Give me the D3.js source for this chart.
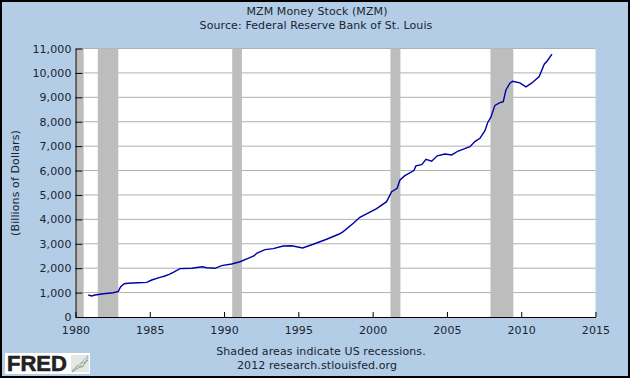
<!DOCTYPE html>
<html>
<head>
<meta charset="utf-8">
<script src="https://cdn.jsdelivr.net/npm/d3@7"></script>
<style>
  html, body { margin: 0; padding: 0; background: #b3cde6; }
  text { font-family: "DejaVu Sans", sans-serif; font-size: 11px; letter-spacing: 0.1px; fill: #1a2430; }
</style>
</head>
<body>
<div id="chart"></div>
<script>
const years = [1980.86, 1981.09, 1981.31, 1981.87, 1982.54, 1982.88, 1983.04, 1983.28, 1983.55, 1984.23,
  1984.79, 1985.13, 1985.69, 1986.02, 1986.31, 1986.58, 1987.03, 1987.82, 1988.53, 1988.83,
  1989.39, 1989.84, 1990.51, 1991.07, 1991.74, 1992.03, 1992.19, 1992.75, 1993.31, 1993.98,
  1994.55, 1995.29, 1996.0, 1996.9, 1997.75, 1998.02, 1998.7, 1999.14, 2000.27, 2000.94,
  2001.28, 2001.65, 2001.84, 2002.17, 2002.78, 2002.91, 2003.3, 2003.59, 2003.97, 2004.35,
  2004.86, 2005.32, 2005.76, 2006.55, 2006.88, 2007.22, 2007.56, 2007.74, 2007.96, 2008.23,
  2008.57, 2008.79, 2008.97, 2009.24, 2009.42, 2009.91, 2010.32, 2010.7, 2011.21, 2011.55,
  2011.75, 2012.07];
const mzm = [900, 860, 900, 955, 995, 1050, 1240, 1365, 1380, 1405,
  1420, 1515, 1625, 1680, 1750, 1830, 1980, 1995, 2060, 2020,
  1995, 2105, 2170, 2265, 2430, 2510, 2610, 2760, 2800, 2910,
  2920, 2830, 2980, 3185, 3400, 3500, 3840, 4085, 4440, 4725,
  5135, 5275, 5615, 5790, 6000, 6190, 6240, 6460, 6385, 6605,
  6680, 6640, 6800, 6980, 7185, 7320, 7635, 7960, 8185, 8670,
  8780, 8825, 9300, 9580, 9660, 9590, 9425, 9580, 9850, 10355,
  10490, 10770];
const recessionStart = [1980.02, 1981.5, 1990.55, 2001.2, 2007.93];
const recessionEnd = [1980.55, 1982.88, 1991.2, 2001.87, 2009.47];
const xTicks = [1980, 1985, 1990, 1995, 2000, 2005, 2010, 2015];
const yTicks = [0, 1000, 2000, 3000, 4000, 5000, 6000, 7000, 8000, 9000, 10000, 11000];
// little chart in the logo, in logo units
const logoA = [0, 2, 3, 5, 6, 8, 10];
const logoB = [1, 2, 4, 3, 6, 5, 9];
const logoC = [0, 1, 2, 3, 3, 6, 7];

const width = 630, height = 378;
const margin = { top: 48.5, right: 34.5, bottom: 61, left: 75.5 };

const svg = d3.select("#chart").append("svg")
  .attr("width", width)
  .attr("height", height)
  .style("display", "block");

svg.append("rect").attr("width", width).attr("height", height).attr("fill", "#b3cde6");

const x = d3.scaleLinear().domain([1980, 2015]).range([margin.left, width - margin.right]);
const y = d3.scaleLinear().domain([0, 11000]).range([height - margin.bottom, margin.top]);

// plot area
svg.append("rect")
  .attr("x", margin.left).attr("y", margin.top)
  .attr("width", width - margin.left - margin.right)
  .attr("height", height - margin.top - margin.bottom)
  .attr("fill", "#fff");

// gridlines
svg.append("g").selectAll("line")
  .data(yTicks.filter((d) => d > 0))
  .join("line")
  .attr("x1", margin.left).attr("x2", width - margin.right)
  .attr("y1", (d) => y(d)).attr("y2", (d) => y(d))
  .attr("stroke", "#b0b0b0").attr("stroke-width", 1);

// recessions
svg.append("g").selectAll("rect")
  .data(recessionStart)
  .join("rect")
  .attr("x", (d) => x(d))
  .attr("y", margin.top)
  .attr("width", (d, i) => x(recessionEnd[i]) - x(d))
  .attr("height", height - margin.top - margin.bottom)
  .attr("fill", "#bdbdbd");

// series
const line = d3.line().x((d) => x(d)).y((d, i) => y(mzm[i]));
svg.append("path")
  .attr("d", line(years))
  .attr("fill", "none")
  .attr("stroke", "#0000a8")
  .attr("stroke-width", 1.4);

// axes
const yAxis = svg.append("g")
  .attr("transform", `translate(${margin.left},0)`)
  .call(d3.axisLeft(y).tickValues(yTicks).tickFormat(d3.format(",")).tickSize(-7).tickPadding(4).tickSizeOuter(0));
const xAxis = svg.append("g")
  .attr("transform", `translate(0,${height - margin.bottom})`)
  .call(d3.axisBottom(x).tickValues(xTicks).tickFormat(d3.format("d")).tickSize(-5).tickPadding(9).tickSizeOuter(0));
[yAxis, xAxis].forEach((a) => {
  a.selectAll("path, line").attr("stroke", "#000");
  a.selectAll("text").style("font-family", '"DejaVu Sans", sans-serif').style("font-size", "11px").attr("fill", "#1a2430");
});

// titles
const label = (txt, px, py) => svg.append("text").attr("x", px).attr("y", py).attr("text-anchor", "middle").text(txt);
label("MZM Money Stock (MZM)", 317, 15);
label("Source: Federal Reserve Bank of St. Louis", 316, 29);
label("Shaded areas indicate US recessions.", 321, 355);
label("2012 research.stlouisfed.org", 317, 369);
svg.append("text")
  .attr("transform", "translate(19,183) rotate(-90)")
  .attr("text-anchor", "middle")
  .text("(Billions of Dollars)");

// FRED logo
const logo = svg.append("g").attr("transform", "translate(5,353)");
logo.append("rect").attr("width", 85).attr("height", 21).attr("fill", "#fff");
logo.append("text")
  .attr("x", 2).attr("y", 18)
  .style("font-family", '"Liberation Sans", sans-serif')
  .style("font-size", "22px")
  .style("font-weight", "bold")
  .style("letter-spacing", "0")
  .style("fill", "#222")
  .style("stroke", "#222")
  .style("stroke-width", "0.6px")
  .text("FRED");
const lx = d3.scaleLinear().domain([0, 6]).range([67, 83]);
const ly = d3.scaleLinear().domain([0, 10]).range([19, 2]);
logo.append("rect").attr("x", 66).attr("y", 2).attr("width", 18).attr("height", 17).attr("fill", "#e4e8e4");
[[logoA, "#9fb4cc"], [logoB, "#a8b88a"], [logoC, "#8a9a7a"]].forEach(([vals, c]) => {
  logo.append("path")
    .attr("d", d3.line().x((d, i) => lx(i)).y((d) => ly(d))(vals))
    .attr("fill", "none").attr("stroke", c).attr("stroke-width", 1);
});

// black frame
svg.append("rect")
  .attr("x", 1).attr("y", 1)
  .attr("width", width - 2).attr("height", height - 2)
  .attr("fill", "none").attr("stroke", "#000").attr("stroke-width", 2);
</script>
</body>
</html>
